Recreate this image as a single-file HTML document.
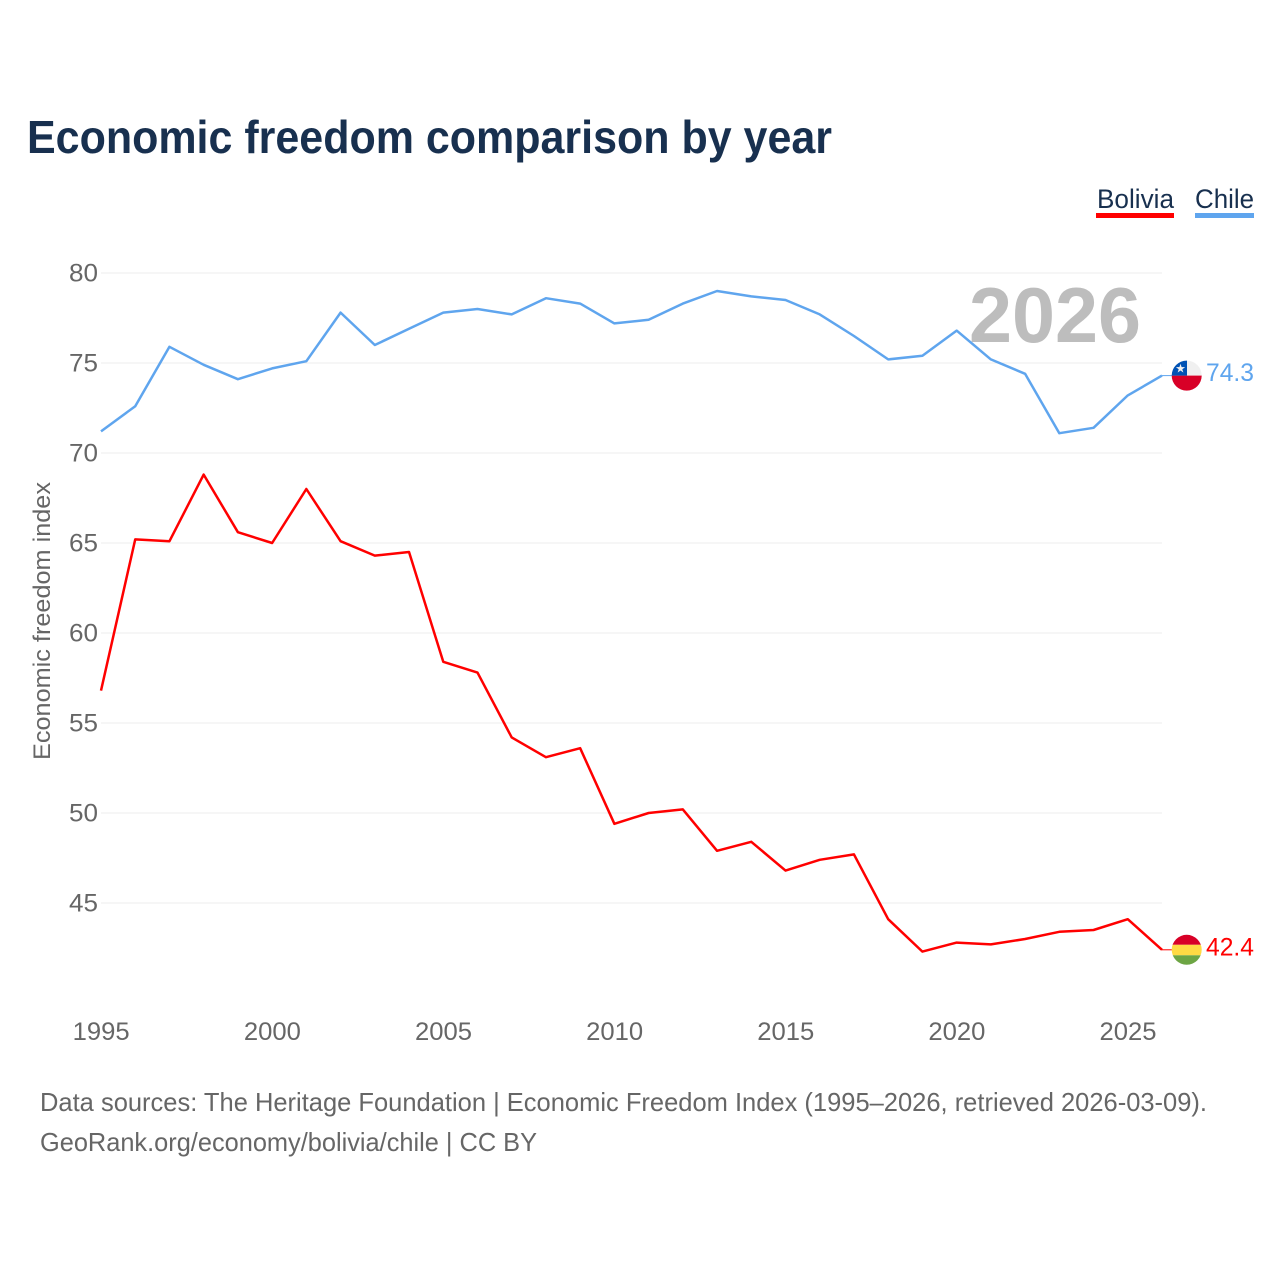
<!DOCTYPE html>
<html lang="en">
<head>
<meta charset="utf-8">
<title>Economic freedom comparison by year</title>
<style>
html,body{margin:0;padding:0;background:#fff;width:1280px;height:1280px;overflow:hidden}
svg{display:block}
text{font-family:"Liberation Sans",sans-serif}
</style>
</head>
<body>
<svg id="chart" xmlns="http://www.w3.org/2000/svg" width="1280" height="1280" viewBox="0 0 1280 1280">
  <rect width="1280" height="1280" fill="#fff"/>
  <text x="27" y="153" font-size="46" font-weight="700" fill="#18304f" textLength="805" lengthAdjust="spacingAndGlyphs">Economic freedom comparison by year</text>
  <g>
    <g>
      <text x="1097" y="208" font-size="27" fill="#18304f" textLength="77" lengthAdjust="spacingAndGlyphs">Bolivia</text>
      <rect x="1096" y="213" width="78" height="5" fill="#ff0000"/>
    </g>
    <g>
      <text x="1195" y="208" font-size="27" fill="#18304f" textLength="59" lengthAdjust="spacingAndGlyphs">Chile</text>
      <rect x="1195" y="213" width="59" height="5" fill="#5fa5ee"/>
    </g>
  </g>
  <g id="grid"></g>
  <g id="yticks"></g>
  <g id="xticks"></g>
  <text transform="translate(50,760) rotate(-90)" x="0" y="0" font-size="24" fill="#666" textLength="278" lengthAdjust="spacingAndGlyphs">Economic freedom index</text>
  <text x="969" y="342" font-size="78" font-weight="700" fill="#bdbdbd" textLength="172" lengthAdjust="spacingAndGlyphs">2026</text>
  <g id="series"></g>
  <text x="40" y="1111" font-size="26" fill="#666" textLength="1167" lengthAdjust="spacingAndGlyphs">Data sources: The Heritage Foundation | Economic Freedom Index (1995–2026, retrieved 2026-03-09).</text>
  <text x="40" y="1151" font-size="26" fill="#666" textLength="497" lengthAdjust="spacingAndGlyphs">GeoRank.org/economy/bolivia/chile | CC BY</text>
</svg>
<script>
const years = [1995,1996,1997,1998,1999,2000,2001,2002,2003,2004,2005,2006,2007,2008,2009,2010,2011,2012,2013,2014,2015,2016,2017,2018,2019,2020,2021,2022,2023,2024,2025,2026];
const boliviaValues = [56.8,65.2,65.1,68.8,65.6,65.0,68.0,65.1,64.3,64.5,58.4,57.8,54.2,53.1,53.6,49.4,50.0,50.2,47.9,48.4,46.8,47.4,47.7,44.1,42.3,42.8,42.7,43.0,43.4,43.5,44.1,42.4];
const chileValues = [71.2,72.6,75.9,74.9,74.1,74.7,75.1,77.8,76.0,76.9,77.8,78.0,77.7,78.6,78.3,77.2,77.4,78.3,79.0,78.7,78.5,77.7,76.5,75.2,75.4,76.8,75.2,74.4,71.1,71.4,73.2,74.3];
const yTickLabels = [45,50,55,60,65,70,75,80];
const xTickLabels = [1995,2000,2005,2010,2015,2020,2025];

const NS = 'http://www.w3.org/2000/svg';
const xScale = function (year) { return 101 + (year - 1995) * (1162 - 101) / (2026 - 1995); };
const yScale = function (value) { return 273 + (80 - value) * 18; };

function make(tag, attrs, parent) {
  const el = document.createElementNS(NS, tag);
  for (const k in attrs) el.setAttribute(k, attrs[k]);
  parent.appendChild(el);
  return el;
}

const grid = document.getElementById('grid');
const yticks = document.getElementById('yticks');
yTickLabels.forEach(function (v) {
  const line = make('line', {x1: 101, x2: 1162, y1: yScale(v), y2: yScale(v), stroke: '#ececec', 'stroke-width': 1}, grid);
  
  
  const t = make('text', {x: 98, y: yScale(v) + 8.5, 'text-anchor': 'end', 'font-size': 25, fill: '#666', textLength: 29, lengthAdjust: 'spacingAndGlyphs'}, yticks);
  
  
  t.textContent = v;
});

const xticks = document.getElementById('xticks');
xTickLabels.forEach(function (y) {
  const t = make('text', {x: xScale(y) + 0.2, y: 1040, 'text-anchor': 'middle', 'font-size': 25, fill: '#666', textLength: 57, lengthAdjust: 'spacingAndGlyphs'}, xticks);
  
  
  t.textContent = y;
});

const seriesGroup = document.getElementById('series');

function drawSeries(key, values, color) {
  const g = make('g', {}, seriesGroup);
  
  
  const pts = values.map(function (v, i) { return xScale(years[i]).toFixed(2) + ',' + yScale(v).toFixed(2); }).join(' ');
  const line = make('polyline', {points: pts, fill: 'none', stroke: color, 'stroke-width': 2.5, 'stroke-linejoin': 'round'}, g);
  
  
  const lastV = values[values.length - 1];
  const lastY = yScale(lastV);
  const conn = make('line', {x1: 1162, x2: 1172, y1: lastY, y2: lastY, stroke: color, 'stroke-width': 1}, g);
  
  
  const label = make('text', {x: 1206, y: lastY + 5.5, 'font-size': 25, fill: color, textLength: 48, lengthAdjust: 'spacingAndGlyphs'}, g);
  
  
  label.textContent = lastV.toFixed(1);
  return {group: g, y: lastY};
}

function clipFor(id, cy, parent) {
  const defs = make('defs', {}, parent);
  const cp = make('clipPath', {id: id}, defs);
  make('circle', {cx: 1186.7, cy: cy, r: 15}, cp);
}

const bolivia = drawSeries('bolivia', boliviaValues, '#ff0000');
const chile = drawSeries('chile', chileValues, '#5fa5ee');

/* Bolivia flag */
(function () {
  const cy = bolivia.y;
  clipFor('clip-bo', cy, bolivia.group);
  const f = make('g', {'clip-path': 'url(#clip-bo)'}, bolivia.group);
  
  
  make('rect', {x: 1171, y: cy - 16, width: 32, height: 11, fill: '#d80027'}, f);
  make('rect', {x: 1171, y: cy - 5, width: 32, height: 10.5, fill: '#ffda44'}, f);
  make('rect', {x: 1171, y: cy + 5.5, width: 32, height: 11, fill: '#6da544'}, f);
})();

/* Chile flag */
(function () {
  const cy = chile.y;
  clipFor('clip-cl', cy, chile.group);
  const f = make('g', {'clip-path': 'url(#clip-cl)'}, chile.group);
  
  
  make('rect', {x: 1171, y: cy - 16, width: 32, height: 16, fill: '#f0f0f0'}, f);
  make('rect', {x: 1171, y: cy, width: 32, height: 16, fill: '#d80027'}, f);
  make('rect', {x: 1171, y: cy - 16, width: 16, height: 16, fill: '#0052b4'}, f);
  const s = make('text', {x: 1180.5, y: cy - 3, 'text-anchor': 'middle', 'font-size': 12, fill: '#f0f0f0', style: 'font-family:"DejaVu Sans",sans-serif'}, f);
  
  
  s.textContent = '★';
})();
</script>
</body>
</html>
